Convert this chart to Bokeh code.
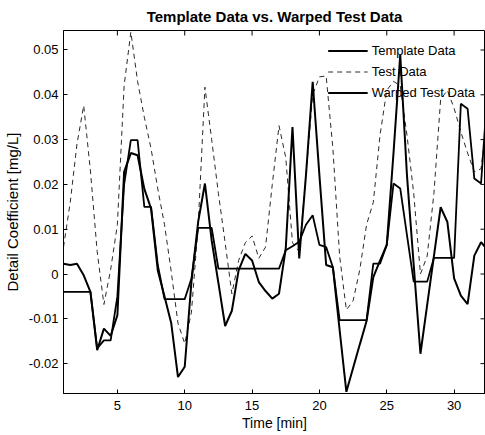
import math
from bokeh.plotting import figure
from bokeh.models import Range1d, FixedTicker, Legend, LegendItem
from bokeh.embed import file_html
from bokeh.resources import INLINE

# ---------------- data ----------------
time_min = [1.0, 1.5, 2.0, 2.5, 3.0, 3.5, 4.0, 4.5, 5.0, 5.5, 6.0, 6.5, 7.0, 7.5, 8.0, 8.5,
            9.0, 9.5, 10.0, 10.5, 11.0, 11.5, 12.0, 12.5, 13.0, 13.5, 14.0, 14.5, 15.0, 15.5, 16.0, 16.5,
            17.0, 17.5, 18.0, 18.5, 19.0, 19.5, 20.0, 20.5, 21.0, 21.5, 22.0, 22.5, 23.0, 23.5, 24.0, 24.5,
            25.0, 25.5, 26.0, 26.5, 27.0, 27.5, 28.0, 28.5, 29.0, 29.5, 30.0, 30.5, 31.0, 31.5, 32.0, 32.5]

template_data = [0.0023, 0.0020, 0.0023, -0.0003, -0.0040, -0.0170, -0.0122, -0.0138,
                 -0.0092, 0.0228, 0.0270, 0.0265, 0.0190, 0.0146, 0.0008, -0.0050,
                 -0.0110, -0.0230, -0.0207, -0.0017, 0.0117, 0.0202, 0.0075, -0.0020,
                 -0.0116, -0.0082, 0.0008, 0.0045, 0.0030, -0.0018, -0.0038, -0.0055,
                 -0.0044, 0.0057, 0.0328, 0.0035, 0.0220, 0.0429, 0.0220, 0.0020,
                 0.0015, -0.0125, -0.0263, -0.0210, -0.0157, -0.0105, -0.0007, 0.0030,
                 0.0065, 0.0270, 0.0489, 0.0220, 0.0020, -0.0178, -0.0069, 0.0040,
                 0.0149, 0.0116, -0.0010, -0.0048, -0.0067, 0.0041, 0.0071, 0.0053]

test_data = [0.0060, 0.0160, 0.0290, 0.0376, 0.0230, 0.0050, -0.0068, 0.0010,
             0.0110, 0.0420, 0.0540, 0.0430, 0.0350, 0.0280, 0.0190, 0.0110,
             0.0005, -0.0110, -0.0155, -0.0085, 0.0110, 0.0417, 0.0300, 0.0180,
             0.0070, -0.0044, 0.0030, 0.0070, 0.0085, 0.0035, 0.0060, 0.0200,
             0.0331, 0.0260, 0.0070, 0.0050, 0.0220, 0.0400, 0.0440, 0.0442,
             0.0280, 0.0040, -0.0080, -0.0060, 0.0010, 0.0110, 0.0160, 0.0310,
             0.0410, 0.0430, 0.0420, 0.0310, 0.0180, 0.0000, 0.0040, 0.0180,
             0.0390, 0.0410, 0.0370, 0.0317, 0.0270, 0.0228, 0.0235, 0.0360]

warped_test_data = [-0.0040, -0.0040, -0.0040, -0.0040, -0.0040, -0.0166, -0.0148, -0.0148,
                    -0.0050, 0.0200, 0.0299, 0.0299, 0.0150, 0.0150, 0.0020, -0.0056,
                    -0.0056, -0.0056, -0.0056, -0.0010, 0.0103, 0.0103, 0.0103, 0.0012,
                    0.0012, 0.0012, 0.0012, 0.0012, 0.0012, 0.0012, 0.0012, 0.0012,
                    0.0012, 0.0053, 0.0062, 0.0072, 0.0110, 0.0131, 0.0065, 0.0060,
                    0.0015, -0.0103, -0.0103, -0.0103, -0.0103, -0.0103, 0.0023, 0.0023,
                    0.0065, 0.0202, 0.0191, 0.0087, -0.0017, -0.0017, -0.0017, 0.0036,
                    0.0036, 0.0036, 0.0036, 0.0380, 0.0369, 0.0213, 0.0202, 0.0420]

series_names = ["Template Data", "Test Data", "Warped Test Data"]
x_ticks = [5, 10, 15, 20, 25, 30]
y_ticks = [-0.02, -0.01, 0, 0.01, 0.02, 0.03, 0.04, 0.05]
y_tick_labels = ["-0.02", "-0.01", "0", "0.01", "0.02", "0.03", "0.04", "0.05"]
title_text = "Template Data vs. Warped Test Data"
x_label = "Time [min]"
y_label = "Detail Coefficient [mg/L]"

# ---------------- layout ----------------
W, H = 485, 435
FL, FR, FT, FB = 62, 485, 30, 393
X0, X1 = 1.0, 32.33
Y0, Y1 = -0.02667, 0.05435
FONT = "Liberation Sans"

p = figure(width=W, height=H, output_backend="svg", toolbar_location=None,
           x_range=Range1d(X0, X1), y_range=Range1d(Y0, Y1),
           min_border_left=FL, min_border_right=W - FR, min_border_top=FT, min_border_bottom=H - FB)
p.title.text = title_text
p.title.align = "center"
p.title.vertical_align = "middle"
p.title.text_font = FONT
p.title.text_font_size = "15px"
p.title.text_font_style = "bold"
p.title.text_color = "black"
p.xgrid.visible = False
p.ygrid.visible = False
p.background_fill_color = "white"
p.border_fill_color = "white"
p.outline_line_color = "black"
p.outline_line_width = 1

def style_axis(ax, label, label_size):
    ax.major_tick_in = 4
    ax.major_tick_out = 0
    ax.minor_tick_line_color = None
    ax.axis_line_color = "black"
    ax.major_tick_line_color = "black"
    ax.major_label_text_font = FONT
    ax.major_label_text_color = "black"
    ax.major_label_text_font_size = "13px"
    ax.axis_label = label
    ax.axis_label_text_font = FONT
    ax.axis_label_text_font_size = label_size
    ax.axis_label_text_font_style = "normal"
    ax.axis_label_text_color = "black"

xa = p.xaxis[0]
xa.ticker = FixedTicker(ticks=x_ticks)
style_axis(xa, x_label, "14px")
xa.major_label_standoff = 7
xa.axis_label_standoff = 2
ya = p.yaxis[0]
ya.ticker = FixedTicker(ticks=y_ticks)
ya.major_label_overrides = {t: s for t, s in zip(y_ticks, y_tick_labels)}
style_axis(ya, y_label, "15px")
ya.major_label_standoff = 5
ya.axis_label_standoff = 5

# inward ticks on the top and right edges of the box
p.ray(x=x_ticks, y=[Y1] * len(x_ticks), length=5, length_units="screen",
      angle=-math.pi / 2, line_color="black", line_width=1)
p.ray(x=[X1] * len(y_ticks), y=y_ticks, length=5, length_units="screen",
      angle=math.pi, line_color="black", line_width=1)

# ---------------- lines ----------------
r_test = p.line(time_min, test_data, line_color="#2a2a2a", line_width=1, line_dash="5 4")
r_tmpl = p.line(time_min, template_data, line_color="black", line_width=2)
r_warp = p.line(time_min, warped_test_data, line_color="black", line_width=1.8)

legend = Legend(items=[LegendItem(label=series_names[0], renderers=[r_tmpl]),
                       LegendItem(label=series_names[1], renderers=[r_test]),
                       LegendItem(label=series_names[2], renderers=[r_warp])],
                location="top_right", background_fill_alpha=0, border_line_alpha=0,
                label_text_font=FONT, label_text_font_size="13px", label_text_color="black",
                glyph_width=40, glyph_height=21, label_height=21, label_standoff=4,
                spacing=0, padding=0, margin=10)
p.add_layout(legend)

open("out.html", "w").write(file_html(p, INLINE))
